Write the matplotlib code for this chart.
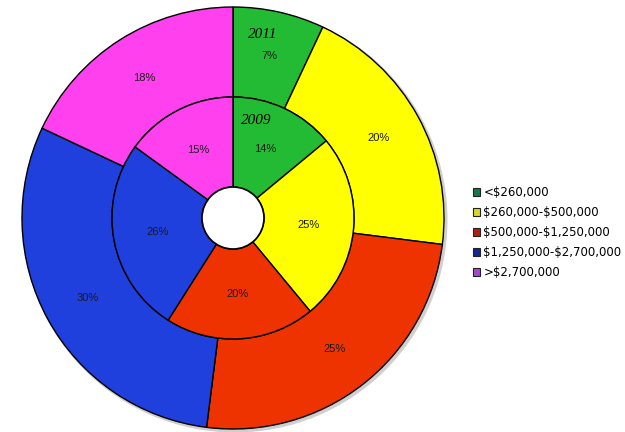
import matplotlib.pyplot as plt
from matplotlib.patches import Patch, Circle

# Price brackets and their share of sales, 2011 (outer) and 2009 (inner)
brackets = [r'<\$260,000', r'\$260,000-\$500,000', r'\$500,000-\$1,250,000',
            r'\$1,250,000-\$2,700,000', r'>\$2,700,000']
share_2011 = [7, 20, 25, 30, 18]
share_2009 = [14, 25, 20, 26, 15]

fill_colors = ['#22bb33', '#ffff00', '#ee3300', '#2040dd', '#ff40ee']
key_colors = ['#137a4a', '#d8d820', '#b02010', '#102a90', '#a848d0']

fig = plt.figure(figsize=(6.25, 4.32), dpi=100)
ax = fig.add_axes([0, 0, 1, 1])

cx, cy = 233, 214
r_out, r_in, ring = 211, 121, 90

# soft drop shadow under the donut
ax.add_patch(Circle((cx + 2, cy - 2), r_out + 1.5, color='#777777', alpha=0.35,
                    zorder=0, lw=0))

label_style = dict(fontsize=8, color='#1a1a1a', family='Liberation Sans')
edge = dict(width=ring, edgecolor='black', linewidth=1)

ax.pie(share_2011, radius=r_out, center=(cx, cy), startangle=90,
       counterclock=False, colors=fill_colors, wedgeprops=edge,
       autopct=lambda p: f'{p:.0f}%', pctdistance=0.787,
       textprops=label_style)
ax.pie(share_2009, radius=r_in, center=(cx, cy), startangle=90,
       counterclock=False, colors=fill_colors, wedgeprops=edge,
       autopct=lambda p: f'{p:.0f}%', pctdistance=0.63,
       textprops=label_style)

# white hole in the middle
ax.add_patch(Circle((cx, cy), r_in - ring, facecolor='white',
                    edgecolor='black', linewidth=1.2, zorder=5))

year_style = dict(fontsize=11, style='italic', family='Liberation Serif',
                  ha='center', va='center', color='black')
ax.text(263, 398, '2011', **year_style)
ax.text(256, 312, '2009', **year_style)

handles = [Patch(facecolor=c, edgecolor='#222222', linewidth=0.8)
           for c in key_colors]
ax.legend(handles, brackets, loc='upper left', bbox_to_anchor=(0.748, 0.583),
          frameon=False, handlelength=0.6, handleheight=0.6,
          handletextpad=0.25, labelspacing=0.6, borderpad=0,
          prop={'family': 'DejaVu Sans', 'size': 8.5})

ax.set_xlim(0, 625)
ax.set_ylim(0, 432)
ax.set_aspect('equal')
ax.axis('off')

fig.savefig('out.png', dpi=100)
